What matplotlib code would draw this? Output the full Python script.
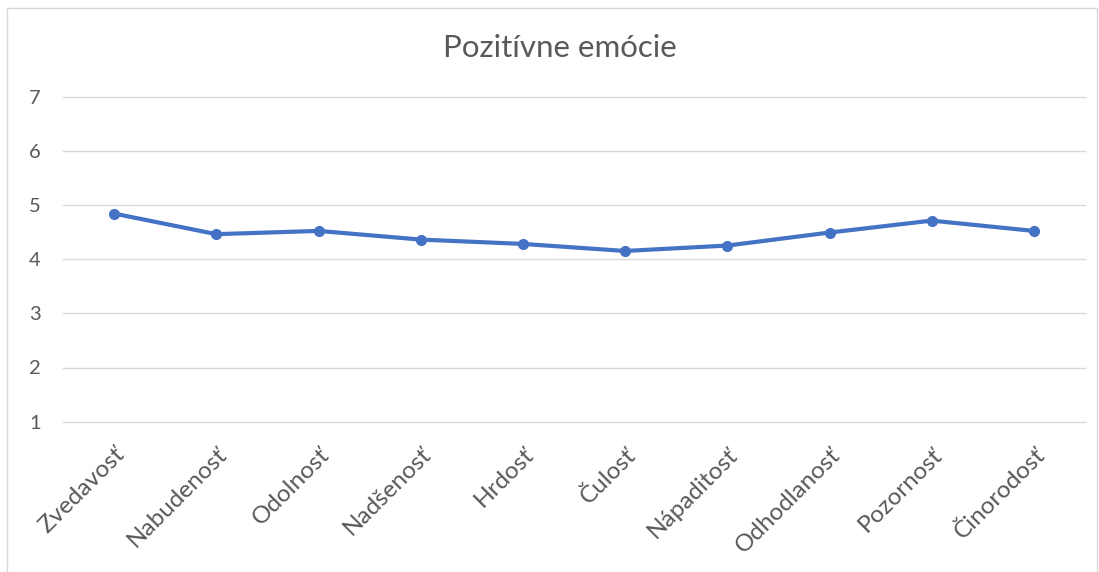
import matplotlib
matplotlib.use("Agg")
import matplotlib.pyplot as plt
from matplotlib.patches import Rectangle

categories = ["Zvedavosť", "Nabudenosť", "Odolnosť", "Nadšenosť", "Hrdosť",
              "Čulosť", "Nápaditosť", "Odhodlanosť", "Pozornosť", "Činorodosť"]
values = [4.84, 4.46, 4.52, 4.36, 4.28, 4.15, 4.25, 4.49, 4.71, 4.52]
yticks = [1, 2, 3, 4, 5, 6, 7]
title = "Pozitívne emócie"

plt.rcParams['font.family'] = ['Lato', 'DejaVu Sans']
txt = '#595959'

fig = plt.figure(figsize=(10.99, 5.72), dpi=100)
ax = fig.add_axes([63/1099, 1 - 421.7/572, (1085-63)/1099, (421.7-96.5)/572])

x = list(range(len(categories)))
ax.plot(x, values, color='#4472C4', linewidth=3, marker='o', markersize=7,
        solid_capstyle='round', zorder=3)

ax.set_xlim(-0.5, len(categories) - 0.5)
ax.set_ylim(1, 7)
ax.set_yticks(yticks)
ax.set_yticklabels([str(v) for v in yticks], fontsize=14.5, color=txt)
ax.grid(axis='y', color='#d9d9d9', linewidth=1)
for gl in ax.get_ygridlines():
    gl.set_clip_on(False)
ax.set_axisbelow(True)
for s in ax.spines.values():
    s.set_visible(False)
ax.tick_params(axis='both', length=0)
ax.tick_params(axis='y', pad=16)

ax.set_xticks(x)
ax.set_xticklabels(categories, rotation=45, ha='right', va='top',
                   rotation_mode='anchor', fontsize=17.5, color=txt)
ax.tick_params(axis='x', pad=16)

fig.text(560/1099, 1 - 48/572, title, ha='center', va='center', fontsize=22.5, color=txt)

fig.patches.append(Rectangle((7/1099, -0.01), (1097-7)/1099, 1 - 8/572 + 0.01,
                             transform=fig.transFigure, fill=False,
                             edgecolor='#d9d9d9', linewidth=1))

fig.savefig("out.png", dpi=100)
